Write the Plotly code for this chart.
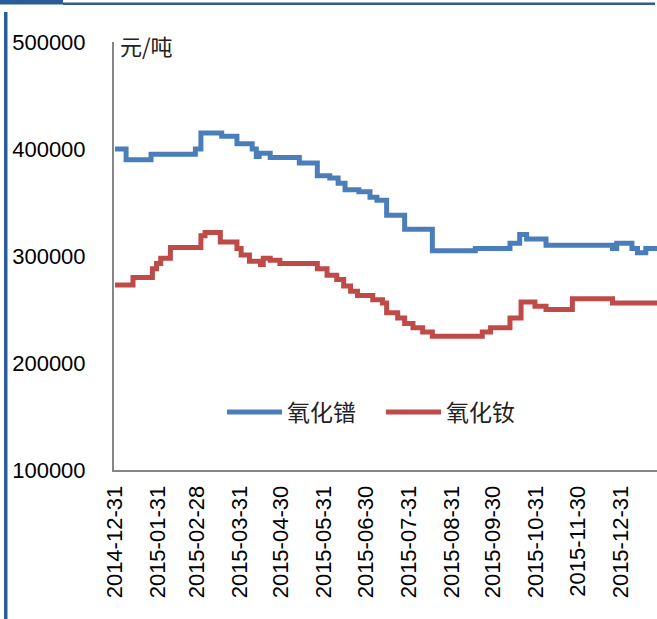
import plotly.graph_objects as go

# ---- data ----
pr_dates = ["2014-12-31", "2015-01-08", "2015-01-26", "2015-02-27", "2015-03-03",
            "2015-03-18", "2015-03-29", "2015-04-09", "2015-04-12", "2015-04-14",
            "2015-04-22", "2015-05-13", "2015-05-26", "2015-06-04", "2015-06-10",
            "2015-06-15", "2015-06-25", "2015-07-03", "2015-07-08", "2015-07-15",
            "2015-07-28", "2015-08-17", "2015-09-17", "2015-10-12", "2015-10-19",
            "2015-10-24", "2015-11-07", "2015-12-25", "2015-12-28", "2016-01-08",
            "2016-01-12", "2016-01-18", "2016-01-27"]
pr_values = [400000, 390000, 395000, 400000, 415000,
             412000, 405000, 400000, 393000, 396000,
             392000, 387000, 375000, 373000, 368000,
             362000, 360000, 355000, 352000, 338000,
             325000, 305000, 307000, 312000, 320000,
             316000, 310000, 307000, 312000, 307000,
             303000, 307000, 307000]

nd_dates = ["2014-12-31", "2015-01-13", "2015-01-27", "2015-01-30", "2015-02-02",
            "2015-02-09", "2015-03-03", "2015-03-06", "2015-03-17", "2015-03-29",
            "2015-04-01", "2015-04-07", "2015-04-15", "2015-04-17", "2015-04-22",
            "2015-04-29", "2015-05-26", "2015-06-02", "2015-06-09", "2015-06-14",
            "2015-06-19", "2015-06-24", "2015-07-05", "2015-07-12", "2015-07-15",
            "2015-07-23", "2015-07-28", "2015-08-03", "2015-08-10", "2015-08-17",
            "2015-09-22", "2015-09-28", "2015-10-12", "2015-10-20", "2015-10-30",
            "2015-11-07", "2015-11-26", "2015-12-25", "2016-01-27"]
nd_values = [273000, 280000, 288000, 293000, 298000,
             308000, 319000, 322000, 313000, 307000,
             301000, 295000, 292000, 298000, 296000,
             293000, 288000, 282000, 278000, 272000,
             267000, 263000, 259000, 256000, 247000,
             242000, 237000, 233000, 229000, 225000,
             229000, 233000, 242000, 257000, 253000,
             250000, 260000, 256000, 256000]

tick_dates = ["2014-12-31", "2015-01-31", "2015-02-28", "2015-03-31", "2015-04-30",
              "2015-05-31", "2015-06-30", "2015-07-31", "2015-08-31", "2015-09-30",
              "2015-10-31", "2015-11-30", "2015-12-31"]
y_ticks = [100000, 200000, 300000, 400000, 500000]

series_names = ["氧化镨", "氧化钕"]
series_colors = ["#4A7EBB", "#BE4B48"]
unit_label = "元/吨"

# ---- figure ----
W, H = 657, 619
L, T, B, R = 114, 42, 149, 0
plot_w, plot_h = W - L - R, H - T - B

def px(xp):
    return (xp - L) / plot_w

def py(yp):
    return (H - B - yp) / plot_h

fig = go.Figure()
fig.add_trace(go.Scatter(x=pr_dates, y=pr_values, name=series_names[0], mode="lines",
                         line=dict(color=series_colors[0], width=5, shape="hv")))
fig.add_trace(go.Scatter(x=nd_dates, y=nd_values, name=series_names[1], mode="lines",
                         line=dict(color=series_colors[1], width=5, shape="hv")))

font_main = "Liberation Sans, Arial, sans-serif"
cjk = "Noto Sans CJK SC, sans-serif"

fig.update_layout(
    width=W, height=H,
    margin=dict(l=L, r=R, t=T, b=B, pad=0),
    paper_bgcolor="white", plot_bgcolor="white",
    showlegend=True,
    legend=dict(orientation="h", x=px(222), y=py(412), xanchor="left", yanchor="middle",
                font=dict(family=cjk, size=23, color="#222222"),
                bgcolor="rgba(0,0,0,0)", itemwidth=55, entrywidth=89, tracegroupgap=0),
    xaxis=dict(type="date", range=["2014-12-30 07:00", "2016-01-26 02:00"],
               tickvals=tick_dates, ticktext=tick_dates, tickangle=-90,
               tickfont=dict(family=font_main, size=22, color="black"),
               showgrid=False, zeroline=False, showline=True, linecolor="#868686",
               linewidth=2, ticks="", ticklabelstandoff=5),
    yaxis=dict(range=[100000, 500000], tickvals=y_ticks,
               ticktext=[str(v) for v in y_ticks],
               tickfont=dict(family=font_main, size=22, color="black"),
               showgrid=False, zeroline=False, showline=True, linecolor="#868686",
               linewidth=2, ticks="", ticklabelstandoff=22),
    annotations=[dict(text=unit_label, xref="paper", yref="paper", x=px(118), y=py(45),
                      xanchor="left", yanchor="middle", showarrow=False,
                      font=dict(family=cjk, size=22, color="#222222"))],
    shapes=[
        dict(type="rect", xref="paper", yref="paper", x0=px(0), x1=px(63), y0=py(0), y1=py(4.5),
             fillcolor="#2A5C9A", line=dict(width=0), layer="above"),
        dict(type="rect", xref="paper", yref="paper", x0=px(63), x1=px(655), y0=py(2.5), y1=py(5),
             fillcolor="#2A5C9A", line=dict(width=0), layer="above"),
        dict(type="rect", xref="paper", yref="paper", x0=px(4), x1=px(7.5), y0=py(12), y1=py(619),
             fillcolor="#2A5C9A", line=dict(width=0), layer="above"),
    ],
)

fig.write_html("out.html", config={"displayModeBar": False},
               post_script="document.body.style.margin='0';")
